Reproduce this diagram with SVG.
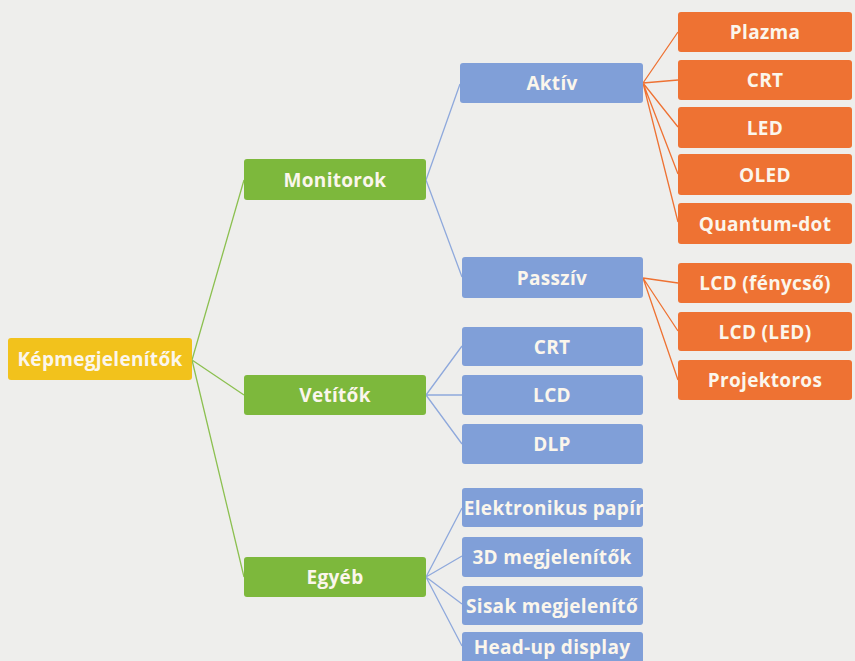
<svg xmlns="http://www.w3.org/2000/svg" width="855" height="661" viewBox="0 0 855 661">
<style>
.bg{fill:#EEEEEC}
rect.n{rx:3;ry:3}
.y{fill:#F2C21C}
.g{fill:#7DB83C}
.b{fill:#809FD8}
.o{fill:#EE7233}
text{font-family:"Open Sans","Noto Sans","DejaVu Sans",sans-serif;font-weight:bold;font-size:19px;letter-spacing:0.3px;fill:#FBF6EC;text-anchor:middle;dominant-baseline:central}
.lg{stroke:#8CC050;stroke-width:1.3;fill:none}
.lb{stroke:#8FA9DC;stroke-width:1.3;fill:none}
.lo{stroke:#EE7233;stroke-width:1.3;fill:none}
</style>
<rect class="bg" x="0" y="0" width="855" height="661"/>
<g id="connectors">
<path class="lg" d="M192 360 L244 180 M192 360 L244 395 M192 360 L244 577"/>
<path class="lb" d="M426 180 L460 84 M426 180 L462 277 M426 395 L462 346 M426 395 L462 395 M426 395 L462 444 M426 577 L462 508 M426 577 L462 556 M426 577 L462 604 M426 577 L462 646"/>
<path class="lo" d="M643 83 L678 32 M643 83 L678 80 M643 83 L678 127 M643 83 L678 174 M643 83 L678 222 M643 278 L678 283 M643 278 L678 331 M643 278 L678 380"/>
</g>
<g id="kepmegjelenitok"><rect class="n y" x="8" y="338" width="184" height="42"/><text x="100" y="359">Képmegjelenítők</text></g>
<g id="monitorok"><rect class="n g" x="244" y="159" width="182" height="41"/><text x="335" y="179.5">Monitorok</text></g>
<g id="vetitok"><rect class="n g" x="244" y="375" width="182" height="40"/><text x="335" y="395">Vetítők</text></g>
<g id="egyeb"><rect class="n g" x="244" y="557" width="182" height="40"/><text x="335" y="577">Egyéb</text></g>
<g id="aktiv"><rect class="n b" x="460" y="63" width="183" height="40"/><text x="552" y="83">Aktív</text></g>
<g id="passziv"><rect class="n b" x="462" y="257" width="181" height="41"/><text x="552" y="277.5">Passzív</text></g>
<g id="v-crt"><rect class="n b" x="462" y="327" width="181" height="39"/><text x="552" y="346.5">CRT</text></g>
<g id="v-lcd"><rect class="n b" x="462" y="375" width="181" height="40"/><text x="552" y="395">LCD</text></g>
<g id="v-dlp"><rect class="n b" x="462" y="424" width="181" height="40"/><text x="552" y="444">DLP</text></g>
<g id="epapir"><rect class="n b" x="462" y="488" width="181" height="39"/><text x="554" y="507.5">Elektronikus papír</text></g>
<g id="3d"><rect class="n b" x="462" y="537" width="181" height="40"/><text x="552" y="557">3D megjelenítők</text></g>
<g id="sisak"><rect class="n b" x="462" y="586" width="181" height="39"/><text x="552" y="605.5">Sisak megjelenítő</text></g>
<g id="hud"><rect class="n b" x="462" y="632" width="181" height="34"/><text x="552" y="647">Head-up display</text></g>
<g id="plazma"><rect class="n o" x="678" y="12" width="174" height="40"/><text x="765" y="32">Plazma</text></g>
<g id="a-crt"><rect class="n o" x="678" y="60" width="174" height="40"/><text x="765" y="80">CRT</text></g>
<g id="led"><rect class="n o" x="678" y="107" width="174" height="41"/><text x="765" y="127.5">LED</text></g>
<g id="oled"><rect class="n o" x="678" y="154" width="174" height="41"/><text x="765" y="174.5">OLED</text></g>
<g id="qdot"><rect class="n o" x="678" y="203" width="174" height="41"/><text x="765" y="223.5">Quantum-dot</text></g>
<g id="lcd-fenycso"><rect class="n o" x="678" y="263" width="174" height="40"/><text x="765" y="283">LCD (fénycső)</text></g>
<g id="lcd-led"><rect class="n o" x="678" y="312" width="174" height="39"/><text x="765" y="331.5">LCD (LED)</text></g>
<g id="projektoros"><rect class="n o" x="678" y="360" width="174" height="40"/><text x="765" y="380">Projektoros</text></g>
</svg>
